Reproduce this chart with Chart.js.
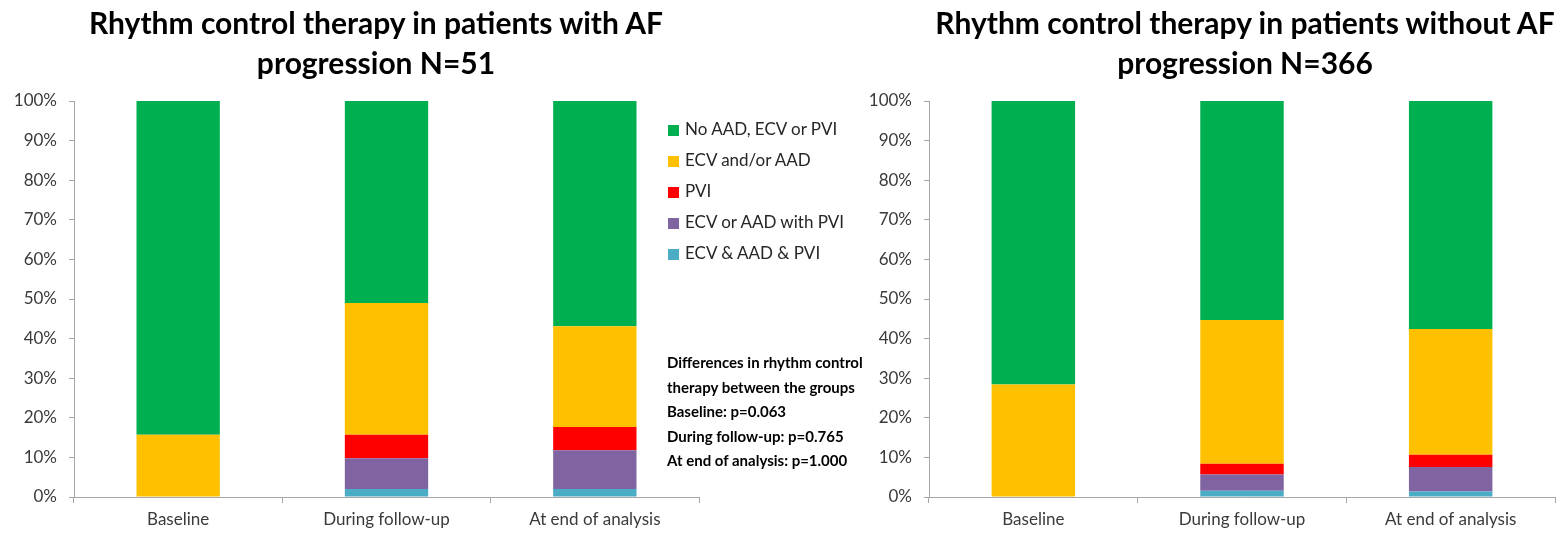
<!DOCTYPE html>
<html>
<head>
<meta charset="utf-8">
<title>Rhythm control therapy</title>
<script src="https://cdn.jsdelivr.net/npm/chart.js@4.4.0/dist/chart.umd.min.js"></script>
<style>
  body { margin: 0; background: #fff; font-family: Lato, sans-serif; }
  #wrap { position: relative; width: 1568px; height: 534px; overflow: hidden; }
  canvas { position: absolute; top: 0; }
  #leftChart { left: 0; }
  #rightChart { left: 784px; }
  .title { position: absolute; top: 2px; font-weight: bold; font-size: 30px; line-height: 40px; text-align: center; color: #000; white-space: nowrap; }
  #legend { position: absolute; left: 668px; top: 113px; font-size: 17px; color: #262626; }
  #legend div { height: 31px; line-height: 31px; white-space: nowrap; }
  #legend span { display: inline-block; width: 11px; height: 11px; margin-right: 6px; vertical-align: -1px; }
  #note { position: absolute; left: 667px; top: 350px; font-size: 15px; font-weight: bold; line-height: 24.5px; color: #000; white-space: nowrap; }
</style>
</head>
<body>
<div id="wrap">
  <canvas id="leftChart" width="784" height="534"></canvas>
  <canvas id="rightChart" width="784" height="534"></canvas>
  <div class="title" style="left:0; width:752px;">Rhythm control therapy in patients with AF<br>progression N=51</div>
  <div class="title" style="left:905px; width:680px;">Rhythm control therapy in patients without AF<br>progression N=366</div>
  <div id="legend"></div>
  <div id="note">
    Differences in rhythm control<br>therapy between the groups<br>Baseline: p=0.063<br>During follow-up: p=0.765<br>At end of analysis: p=1.000
  </div>
</div>
<script>
// categories and series (percent of patients)
const categories = ['Baseline', 'During follow-up', 'At end of analysis'];
const seriesNames = ['ECV & AAD & PVI', 'ECV or AAD with PVI', 'PVI', 'ECV and/or AAD', 'No AAD, ECV or PVI'];
const seriesColors = ['#4BACC6', '#8064A2', '#FF0000', '#FFC000', '#00B050'];
const yTicks = [0, 10, 20, 30, 40, 50, 60, 70, 80, 90, 100];

// with AF progression, N=51
const progAll = [0, 2.0, 2.0];
const progCombo = [0, 7.8, 9.8];
const progPvi = [0, 5.9, 5.9];
const progEcvAad = [15.7, 33.3, 25.4];
const progNone = [84.3, 51.0, 56.9];

// without AF progression, N=366
const noProgAll = [0, 1.6, 1.4];
const noProgCombo = [0, 4.1, 6.2];
const noProgPvi = [0, 2.7, 3.1];
const noProgEcvAad = [28.4, 36.3, 31.7];
const noProgNone = [71.6, 55.3, 57.6];

const axisColor = '#a6a6a6';
const textColor = '#3a3a3a';

function makeChart(id, series, yWidth, padRight) {
  const datasets = series.map((vals, i) => ({
    label: seriesNames[i],
    data: vals,
    backgroundColor: seriesColors[i],
    borderWidth: 0,
    barPercentage: 0.4,
    categoryPercentage: 1.0
  }));
  return new Chart(document.getElementById(id).getContext('2d'), {
    type: 'bar',
    data: { labels: categories, datasets: datasets },
    options: {
      responsive: false,
      animation: false,
      layout: { padding: { top: 101, right: padRight, bottom: 0, left: 0 } },
      plugins: { legend: { display: false }, title: { display: false }, tooltip: { enabled: false } },
      scales: {
        x: {
          stacked: true,
          grid: { display: true, drawOnChartArea: false, drawTicks: true, tickLength: 6, color: axisColor, offset: true },
          border: { color: axisColor, width: 1 },
          ticks: { color: textColor, font: { family: 'Lato', size: 17 }, padding: 6 },
          afterFit: (s) => { s.height = 37; }
        },
        y: {
          stacked: true,
          min: 0,
          max: 100,
          afterBuildTicks: (s) => { s.ticks = yTicks.map(v => ({ value: v })); },
          grid: { display: true, drawOnChartArea: false, drawTicks: true, tickLength: 5, color: axisColor },
          border: { color: axisColor, width: 1 },
          ticks: { color: textColor, font: { family: 'Lato', size: 17 }, padding: 12, callback: (v) => v + '%' },
          afterFit: (s) => { s.width = yWidth; }
        }
      }
    }
  });
}

makeChart('leftChart', [progAll, progCombo, progPvi, progEcvAad, progNone], 74, 85);
makeChart('rightChart', [noProgAll, noProgCombo, noProgPvi, noProgEcvAad, noProgNone], 145, 13);

// legend, top to bottom in reverse stacking order
const legend = document.getElementById('legend');
for (let i = seriesNames.length - 1; i >= 0; i--) {
  const row = document.createElement('div');
  const sw = document.createElement('span');
  sw.style.background = seriesColors[i];
  row.appendChild(sw);
  row.appendChild(document.createTextNode(seriesNames[i]));
  legend.appendChild(row);
}
</script>
</body>
</html>
